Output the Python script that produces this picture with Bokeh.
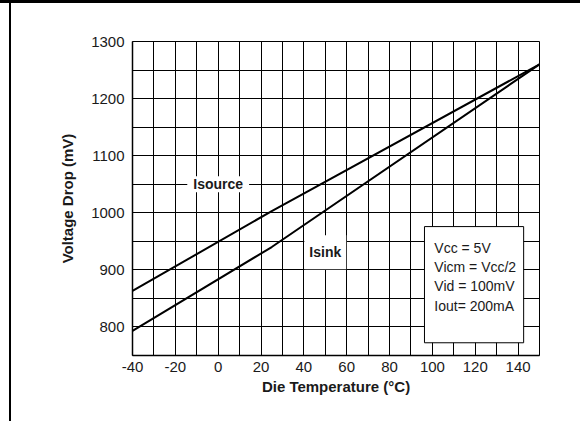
from bokeh.plotting import figure
from bokeh.models import FixedTicker, Label, Range1d
from bokeh.embed import file_html
from bokeh.resources import INLINE
from bokeh.core.properties import value

# ---- data ----
temp_source = [-40, 25, 150]
isource_mv = [863, 1003, 1260]
temp_sink = [-40, 25, 150]
isink_mv = [793, 940, 1260]
x_ticks = [-40, -20, 0, 20, 40, 60, 80, 100, 120, 140]
y_ticks = [800, 900, 1000, 1100, 1200, 1300]
series_names = ["Isource", "Isink"]
conditions = ["Vcc = 5V", "Vicm = Vcc/2", "Vid = 100mV", "Iout= 200mA"]

FONT = "Liberation Sans"
TXT = "#1a1a1a"

p = figure(width=580, height=421,
           x_range=Range1d(-40, 150), y_range=Range1d(750, 1300),
           output_backend="svg", toolbar_location=None,
           min_border_left=132, min_border_right=41,
           min_border_top=41, min_border_bottom=66)
p.styles = {
    "background": "linear-gradient(#000,#000) 9px 0 / 2px 100% no-repeat, "
                  "linear-gradient(#000,#000) 0 0 / 100% 3px no-repeat, white"
}

p.background_fill_color = "white"
p.border_fill_alpha = 0
p.outline_line_color = "black"
p.outline_line_width = 1

xa = p.xaxis[0]
ya = p.yaxis[0]
xa.ticker = FixedTicker(ticks=x_ticks, minor_ticks=list(range(-40, 151, 10)))
ya.ticker = FixedTicker(ticks=y_ticks, minor_ticks=list(range(750, 1301, 50)))
xa.major_label_overrides = {t: str(t) for t in x_ticks}

for g in (p.xgrid[0], p.ygrid[0]):
    g.grid_line_color = "black"
    g.grid_line_width = 1
    g.minor_grid_line_color = "black"
    g.minor_grid_line_width = 1

for ax in (xa, ya):
    ax.axis_line_color = "black"
    ax.axis_line_width = 1.5
    ax.major_tick_out = 0
    ax.major_tick_in = 0
    ax.minor_tick_out = 0
    ax.minor_tick_in = 0
    ax.major_label_text_font = FONT
    ax.major_label_text_font_size = "15px"
    ax.major_label_text_color = TXT
    ax.axis_label_text_font = FONT
    ax.axis_label_text_font_size = "15px"
    ax.axis_label_text_font_style = "bold"
    ax.axis_label_text_color = TXT

xa.axis_label = "Die Temperature (°C)"
ya.axis_label = "Voltage Drop (mV)"
xa.major_label_standoff = 6
xa.axis_label_standoff = 3
ya.major_label_standoff = 8
ya.axis_label_standoff = 12

p.line(temp_source, isource_mv, line_color="black", line_width=2)
p.line(temp_sink, isink_mv, line_color="black", line_width=2)

# series labels with white background
p.add_layout(Label(x=0, y=1050, text=series_names[0], text_font=FONT,
                   text_font_size="14px", text_font_style="bold", text_color=TXT,
                   text_align="center", text_baseline="middle",
                   background_fill_color="white",
                   padding=dict(left=6, right=6, top=0, bottom=0)))
p.add_layout(Label(x=50, y=931, text=series_names[1], text_font=FONT,
                   text_font_size="14px", text_font_style="bold", text_color=TXT,
                   text_align="center", text_baseline="middle",
                   background_fill_color="white",
                   padding=dict(left=5, right=5, top=9, bottom=9)))

# conditions box
p.quad(left=[96.3], right=[142.6], top=[975.8], bottom=[772.3],
       fill_color="white", line_color="black", line_width=1)
cond_y = [938.6 - i * 33.7 for i in range(len(conditions))]
p.text(x=[100.9] * len(conditions), y=cond_y, text=conditions,
       text_font=value(FONT), text_font_size="14px", text_color=TXT,
       text_align="left", text_baseline="middle")

open("out.html", "w").write(file_html(p, INLINE))
